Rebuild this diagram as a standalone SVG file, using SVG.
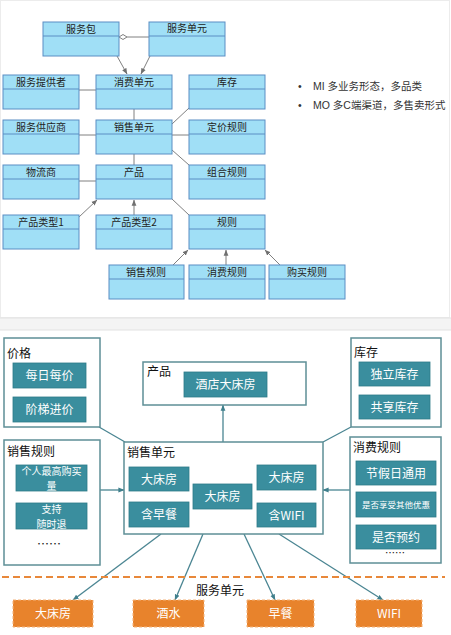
<svg xmlns="http://www.w3.org/2000/svg" width="451" height="635" viewBox="0 0 451 635">
<style>
.u rect{fill:#A0DFF6;stroke:#5A8EC4;stroke-width:1}
.u line{stroke:#5A8EC4;stroke-width:1}
.ut{font-family:"Noto Sans CJK SC",sans-serif;font-size:10px;fill:#222;text-anchor:middle}
.c line{stroke:#808080;stroke-width:1}
.b rect.o{fill:#fff;stroke:#5E8F96;stroke-width:1.5}
.lab{font-family:"Noto Sans CJK SC",sans-serif;font-size:12px;fill:#111}
.t rect{fill:#3A8E9E;stroke:#2E7A88;stroke-width:0.8}
.tt{font-family:"Noto Sans CJK SC",sans-serif;font-size:12px;fill:#fff;text-anchor:middle}
.tt2{font-family:"Noto Sans CJK SC",sans-serif;font-size:10px;fill:#fff;text-anchor:middle}
.or rect{fill:#E8832C;stroke:#F4B37A;stroke-width:1;stroke-dasharray:3,2}
.bc line{stroke:#4A8592;stroke-width:1.3}
.bul{font-family:"Liberation Sans","Noto Sans CJK SC",sans-serif;font-size:10.5px;fill:#333}
</style>
<defs>
<marker id="ua" viewBox="0 0 8 8" refX="7.5" refY="4" markerWidth="6" markerHeight="6" orient="auto" markerUnits="userSpaceOnUse"><path d="M0,0.8 L8,4 L0,7.2 Z" fill="#707070"/></marker>
<marker id="ba" viewBox="0 0 8 8" refX="7.5" refY="4" markerWidth="6" markerHeight="6" orient="auto" markerUnits="userSpaceOnUse"><path d="M0,0.8 L8,4 L0,7.2 Z" fill="#3F7F8C"/></marker>
</defs>
<rect x="0" y="0" width="451" height="635" fill="#fff"/>
<rect x="0.5" y="0.5" width="449" height="317" fill="#fff" stroke="#ececec"/>
<rect x="0" y="318" width="451" height="12" fill="#f4f4f4"/>
<line x1="0" y1="318" x2="451" y2="318" stroke="#e2e2e2"/>
<line x1="0" y1="330" x2="451" y2="330" stroke="#e2e2e2"/>

<g id="top-connectors" class="c">
<line x1="127" y1="37" x2="149" y2="37"/>
<path d="M119,37 L123,34.5 L127,37 L123,39.5 Z" fill="#fff" stroke="#808080" stroke-width="1"/>
<line x1="117" y1="56" x2="127" y2="74" marker-end="url(#ua)"/>
<line x1="150" y1="56" x2="141" y2="74" marker-end="url(#ua)"/>
<line x1="79" y1="90" x2="96" y2="90"/>
<line x1="134" y1="109" x2="134" y2="120"/>
<line x1="189" y1="108" x2="172" y2="124"/>
<line x1="79" y1="135" x2="96" y2="135"/>
<line x1="172" y1="135" x2="189" y2="135"/>
<line x1="134" y1="154" x2="134" y2="165"/>
<line x1="172" y1="150" x2="189" y2="165"/>
<line x1="79" y1="181" x2="96" y2="181"/>
<line x1="79" y1="217" x2="97" y2="200" marker-end="url(#ua)"/>
<line x1="134" y1="215" x2="134" y2="200" marker-end="url(#ua)"/>
<line x1="172" y1="199" x2="189" y2="215"/>
<line x1="173" y1="265" x2="188" y2="250" marker-end="url(#ua)"/>
<line x1="226" y1="265" x2="226" y2="250" marker-end="url(#ua)"/>
<line x1="280" y1="265" x2="265" y2="250" marker-end="url(#ua)"/>
</g>

<g id="u-fuwubao" class="u"><rect x="43" y="22" width="76" height="34"/><line x1="43" y1="36" x2="119" y2="36"/><text class="ut" x="81" y="33">服务包</text></g>
<g id="u-fuwudanyuan" class="u"><rect x="149" y="22" width="76" height="34"/><line x1="149" y1="36" x2="225" y2="36"/><text class="ut" x="187" y="32">服务单元</text></g>
<g id="u-tigongzhe" class="u"><rect x="3" y="75" width="76" height="34"/><line x1="3" y1="89" x2="79" y2="89"/><text class="ut" x="41" y="86">服务提供者</text></g>
<g id="u-xiaofeidanyuan" class="u"><rect x="96" y="75" width="76" height="34"/><line x1="96" y1="89" x2="172" y2="89"/><text class="ut" x="134" y="86">消费单元</text></g>
<g id="u-kucun" class="u"><rect x="189" y="75" width="76" height="34"/><line x1="189" y1="89" x2="265" y2="89"/><text class="ut" x="227" y="86">库存</text></g>
<g id="u-gongyingshang" class="u"><rect x="3" y="120" width="76" height="34"/><line x1="3" y1="134" x2="79" y2="134"/><text class="ut" x="41" y="131">服务供应商</text></g>
<g id="u-xiaoshoudanyuan" class="u"><rect x="96" y="120" width="76" height="34"/><line x1="96" y1="134" x2="172" y2="134"/><text class="ut" x="134" y="131">销售单元</text></g>
<g id="u-dingjia" class="u"><rect x="189" y="120" width="76" height="34"/><line x1="189" y1="134" x2="265" y2="134"/><text class="ut" x="227" y="131">定价规则</text></g>
<g id="u-wuliu" class="u"><rect x="3" y="165" width="76" height="34"/><line x1="3" y1="179" x2="79" y2="179"/><text class="ut" x="41" y="176">物流商</text></g>
<g id="u-chanpin" class="u"><rect x="96" y="165" width="76" height="34"/><line x1="96" y1="179" x2="172" y2="179"/><text class="ut" x="134" y="176">产品</text></g>
<g id="u-zuhe" class="u"><rect x="189" y="165" width="76" height="34"/><line x1="189" y1="179" x2="265" y2="179"/><text class="ut" x="227" y="176">组合规则</text></g>
<g id="u-leixing1" class="u"><rect x="3" y="215" width="76" height="34"/><line x1="3" y1="229" x2="79" y2="229"/><text class="ut" x="41" y="226">产品类型1</text></g>
<g id="u-leixing2" class="u"><rect x="96" y="215" width="76" height="34"/><line x1="96" y1="229" x2="172" y2="229"/><text class="ut" x="134" y="226">产品类型2</text></g>
<g id="u-guize" class="u"><rect x="189" y="215" width="76" height="34"/><line x1="189" y1="229" x2="265" y2="229"/><text class="ut" x="227" y="226">规则</text></g>
<g id="u-xiaoshouguize" class="u"><rect x="109" y="265" width="75" height="34"/><line x1="109" y1="279" x2="184" y2="279"/><text class="ut" x="146" y="276">销售规则</text></g>
<g id="u-xiaofeiguize" class="u"><rect x="189" y="265" width="76" height="34"/><line x1="189" y1="279" x2="265" y2="279"/><text class="ut" x="227" y="276">消费规则</text></g>
<g id="u-goumai" class="u"><rect x="269" y="265" width="76" height="34"/><line x1="269" y1="279" x2="345" y2="279"/><text class="ut" x="307" y="276">购买规则</text></g>

<g id="bullets">
<text class="bul" x="298" y="90">•</text>
<text class="bul" x="313" y="90">MI 多业务形态，多品类</text>
<text class="bul" x="298" y="109">•</text>
<text class="bul" x="313" y="109">MO 多C端渠道，多售卖形式</text>
</g>

<g id="bottom-connectors" class="bc">
<line x1="99" y1="427" x2="125" y2="442"/>
<line x1="351" y1="427" x2="323" y2="442"/>
<line x1="100" y1="490" x2="124" y2="490" marker-end="url(#ba)"/>
<line x1="350" y1="490" x2="323" y2="490" marker-end="url(#ba)"/>
<line x1="223" y1="442" x2="223" y2="405" marker-end="url(#ba)"/>
<line x1="161" y1="534" x2="73" y2="600" marker-end="url(#ba)"/>
<line x1="203" y1="534" x2="175" y2="600" marker-end="url(#ba)"/>
<line x1="244" y1="534" x2="275" y2="600" marker-end="url(#ba)"/>
<line x1="279" y1="534" x2="383" y2="600" marker-end="url(#ba)"/>
</g>

<g id="b-jiage" class="b">
<rect class="o" x="4" y="338" width="96" height="89"/>
<text class="lab" x="7" y="358">价格</text>
<g class="t"><rect x="13" y="363" width="73" height="25"/><text class="tt" x="49.5" y="380">每日每价</text></g>
<g class="t"><rect x="13" y="397" width="73" height="25"/><text class="tt" x="49.5" y="414">阶梯进价</text></g>
</g>

<g id="b-chanpin" class="b">
<rect class="o" x="143" y="362" width="163" height="43"/>
<text class="lab" x="147" y="376">产品</text>
<g class="t"><rect x="184" y="372" width="83" height="25"/><text class="tt" x="225.5" y="389">酒店大床房</text></g>
</g>

<g id="b-kucun" class="b">
<rect class="o" x="351" y="338" width="90" height="89"/>
<text class="lab" x="354" y="357">库存</text>
<g class="t"><rect x="359" y="362" width="71" height="24"/><text class="tt" x="394.5" y="378.5">独立库存</text></g>
<g class="t"><rect x="359" y="395" width="71" height="24"/><text class="tt" x="394.5" y="411.5">共享库存</text></g>
</g>

<g id="b-xiaoshouguize" class="b">
<rect class="o" x="4" y="440" width="96" height="125"/>
<text class="lab" x="7" y="456">销售规则</text>
<g class="t"><rect x="16" y="465" width="71" height="26"/><text class="tt2" x="51.5" y="475"><tspan x="51.5">个人最高购买</tspan><tspan x="51.5" dy="14.6">量</tspan></text></g>
<g class="t"><rect x="16" y="503" width="71" height="26"/><text class="tt2" x="51.5" y="513"><tspan x="51.5">支持</tspan><tspan x="51.5" dy="14.6">随时退</tspan></text></g>
<text class="lab" x="37" y="549">……</text>
</g>

<g id="b-xiaoshoudanyuan" class="b">
<rect class="o" x="124" y="442" width="199" height="92"/>
<text class="lab" x="127" y="457">销售单元</text>
<g class="t"><rect x="129" y="467" width="60" height="24"/><text class="tt" x="159" y="483.5">大床房</text></g>
<g class="t"><rect x="129" y="502" width="60" height="25"/><text class="tt" x="159" y="519">含早餐</text></g>
<g class="t"><rect x="193" y="484" width="59" height="25"/><text class="tt" x="222.5" y="501">大床房</text></g>
<g class="t"><rect x="257" y="465" width="59" height="25"/><text class="tt" x="286.5" y="482">大床房</text></g>
<g class="t"><rect x="257" y="503" width="59" height="24"/><text class="tt" x="286.5" y="519.5">含WIFI</text></g>
</g>

<g id="b-xiaofeiguize" class="b">
<rect class="o" x="350" y="437" width="91" height="126"/>
<text class="lab" x="353" y="452">消费规则</text>
<g class="t"><rect x="356" y="461" width="80" height="24"/><text class="tt" x="396" y="477.5">节假日通用</text></g>
<g class="t"><rect x="356" y="492" width="80" height="25"/><text class="tt" x="396" y="507.5" style="font-size:8.5px">是否享受其他优惠</text></g>
<g class="t"><rect x="356" y="525" width="80" height="24"/><text class="tt" x="396" y="541.5">是否预约</text></g>
<text class="lab" x="385" y="557" style="font-size:10px">……</text>
</g>

<line id="divider" x1="2" y1="577" x2="445" y2="577" stroke="#E8883A" stroke-width="2" stroke-dasharray="7,4"/>
<text class="lab" x="220" y="595" text-anchor="middle">服务单元</text>

<g id="o-dachuangfang" class="or"><rect x="13" y="600" width="80" height="27"/><text class="tt" x="53" y="618">大床房</text></g>
<g id="o-jiushui" class="or"><rect x="133" y="600" width="71" height="27"/><text class="tt" x="168.5" y="618">酒水</text></g>
<g id="o-zaocan" class="or"><rect x="247" y="600" width="67" height="27"/><text class="tt" x="280.5" y="618">早餐</text></g>
<g id="o-wifi" class="or"><rect x="356" y="600" width="66" height="27"/><text class="tt" x="389" y="618">WIFI</text></g>
</svg>
